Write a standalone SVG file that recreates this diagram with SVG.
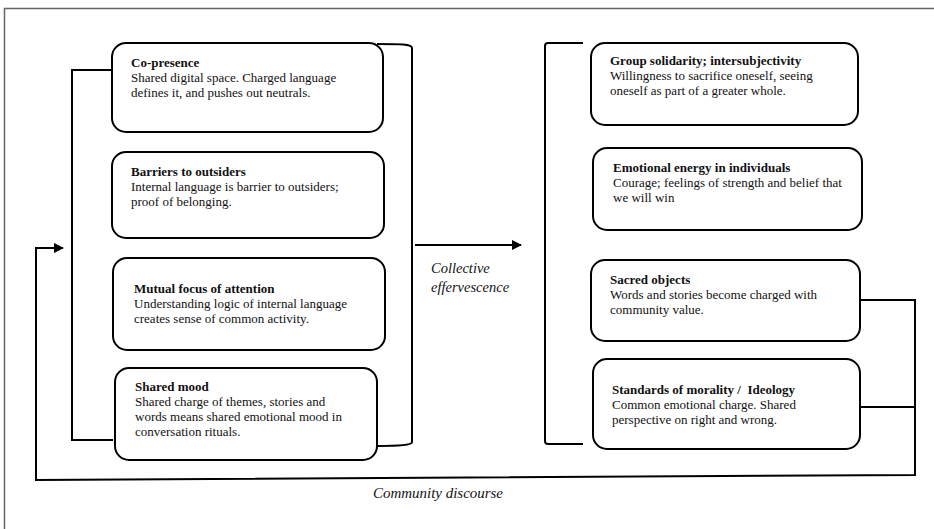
<svg xmlns="http://www.w3.org/2000/svg" width="934" height="529" viewBox="0 0 934 529">
<defs>
<marker id="ah" markerWidth="10" markerHeight="10" refX="9" refY="5" orient="auto" markerUnits="userSpaceOnUse" viewBox="0 0 10 10">
<path d="M0,0 L10,5 L0,10 z" fill="#000"/>
</marker>
<style>
.box{fill:#fff;stroke:#000;stroke-width:2}
.ln{fill:none;stroke:#000;stroke-width:2}
.t{font-family:"Liberation Serif","Times New Roman",serif;font-size:13px;fill:#111}
.b{font-weight:bold}
.it{font-family:"Liberation Serif","Times New Roman",serif;font-style:italic;fill:#111}
</style>
</defs>
<rect width="934" height="529" fill="#fff"/>
<path d="M4.5,529 V8.5 H934" fill="none" stroke="#666" stroke-width="1.5"/>

<g id="connectors">
<path class="ln" d="M113,70 H72 V440 H113"/>
<path class="ln" d="M377,44 C400,44 412,44 412,48 V442 C412,445 400,446 377,446"/>
<path class="ln" d="M583,43 H548 Q545,43 545,46 V441 Q545,444 548,444 H583"/>
<path class="ln" d="M415,245 H521" marker-end="url(#ah)"/>
<path class="ln" d="M860,300 H915 V475 L36,480 V248 H63" marker-end="url(#ah)"/>
<path class="ln" d="M860,407 H915"/>
</g>

<g id="n1"><rect class="box" x="112" y="43" width="271" height="89" rx="14"/>
<text class="t b" x="131" y="67">Co-presence</text>
<text class="t" x="131" y="82">Shared digital space. Charged language</text>
<text class="t" x="131" y="97">defines it, and pushes out neutrals.</text></g>

<g id="n2"><rect class="box" x="112" y="152" width="272" height="86" rx="14"/>
<text class="t b" x="131" y="176">Barriers to outsiders</text>
<text class="t" x="131" y="191">Internal language is barrier to outsiders;</text>
<text class="t" x="131" y="206">proof of belonging.</text></g>

<g id="n3"><rect class="box" x="113" y="258" width="272" height="92" rx="14"/>
<text class="t b" x="134" y="293">Mutual focus of attention</text>
<text class="t" x="134" y="308">Understanding logic of internal language</text>
<text class="t" x="134" y="323">creates sense of common activity.</text></g>

<g id="n4"><rect class="box" x="115" y="368" width="262" height="92" rx="14"/>
<text class="t b" x="135" y="391">Shared mood</text>
<text class="t" x="135" y="406">Shared charge of themes, stories and</text>
<text class="t" x="135" y="421">words means shared emotional mood in</text>
<text class="t" x="135" y="436">conversation rituals.</text></g>

<g id="n5"><rect class="box" x="591" y="43" width="267" height="82" rx="14"/>
<text class="t b" x="610" y="65">Group solidarity; intersubjectivity</text>
<text class="t" x="610" y="80">Willingness to sacrifice oneself, seeing</text>
<text class="t" x="610" y="95">oneself as part of a greater whole.</text></g>

<g id="n6"><rect class="box" x="593" y="148" width="269" height="82" rx="14"/>
<text class="t b" x="613" y="172">Emotional energy in individuals</text>
<text class="t" x="613" y="187">Courage; feelings of strength and belief that</text>
<text class="t" x="613" y="202">we will win</text></g>

<g id="n7"><rect class="box" x="591" y="260" width="269" height="81" rx="14"/>
<text class="t b" x="610" y="284">Sacred objects</text>
<text class="t" x="610" y="299">Words and stories become charged with</text>
<text class="t" x="610" y="314">community value.</text></g>

<g id="n8"><rect class="box" x="593" y="359" width="267" height="90" rx="14"/>
<text class="t b" x="612" y="394" style="white-space:pre">Standards of morality /  Ideology</text>
<text class="t" x="612" y="409">Common emotional charge. Shared</text>
<text class="t" x="612" y="424">perspective on right and wrong.</text></g>

<text class="it" x="431" y="273" font-size="14.5">Collective</text>
<text class="it" x="431" y="292" font-size="14.5">effervescence</text>
<text class="it" x="373" y="498" font-size="14.5" textLength="130" lengthAdjust="spacingAndGlyphs">Community discourse</text>
</svg>
